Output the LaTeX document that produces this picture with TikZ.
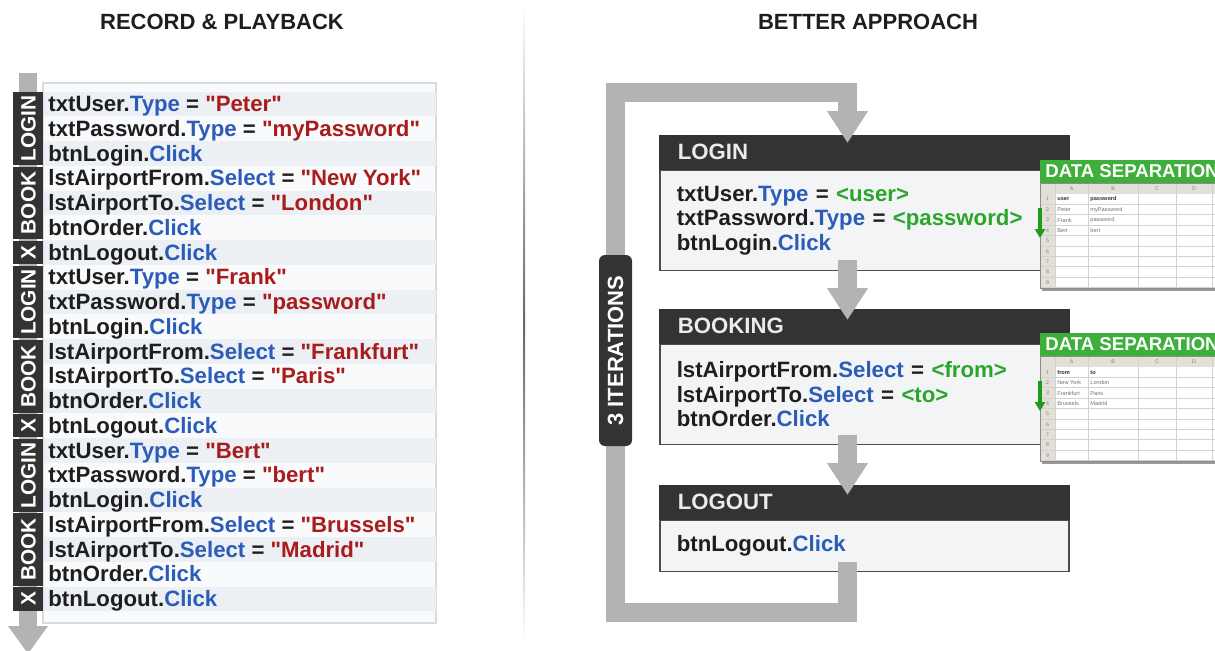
\documentclass[tikz,border=0pt]{standalone}
\usepackage{fontspec}
\setmainfont{Liberation Sans}
\usetikzlibrary{arrows.meta,positioning,calc}

\definecolor{ink}{HTML}{1E1E1E}
\definecolor{codeblue}{HTML}{2A5CB8}
\definecolor{codered}{HTML}{A81C1C}
\definecolor{codegreen}{HTML}{2BA52B}
\definecolor{darkbar}{HTML}{333333}
\definecolor{flowgray}{HTML}{B3B3B3}
\definecolor{bodyfill}{HTML}{F3F4F6}
\definecolor{panelfill}{HTML}{F9FAFB}
\definecolor{paneledge}{HTML}{D5DCE4}
\definecolor{rowshade}{HTML}{ECEFF3}
\definecolor{sheetgreen}{HTML}{3DAF3A}
\definecolor{gridgray}{HTML}{D2D2D2}
\definecolor{sheethead}{HTML}{E3E0D8}
\definecolor{arrowgreen}{HTML}{1E9A1E}

% straight double quote, taken as a glyph so that no text mapping curls it
\newcommand{\dq}{\XeTeXglyph\XeTeXglyphindex"quotedbl"\relax}
\newcommand{\call}[2]{#1.\textcolor{codeblue}{#2}}
\newcommand{\setval}[3]{\call{#1}{#2} = \textcolor{codered}{\dq#3\dq}}
\newcommand{\setpar}[3]{\call{#1}{#2} = \textcolor{codegreen}{<#3>}}

\tikzset{
    heading/.style={font=\bfseries\fontsize{11}{13}\selectfont, text=ink, inner sep=0pt},
    codeline/.style={font=\bfseries\fontsize{11.1}{12.25}\selectfont, text=ink, inner sep=0pt},
    bartext/.style={font=\bfseries\fontsize{10.4}{12}\selectfont, text=white, rotate=90, inner sep=0pt},
    flow/.style={draw=flowgray, line width=9.5pt, line join=miter, -{Triangle[width=19.5pt,length=16pt]}},
    boxhead/.style={fill=darkbar, draw=darkbar, line width=0.8pt, text=white!92!black,
        font=\bfseries\fontsize{11.1}{13}\selectfont, minimum width=204.5pt, minimum height=16.5pt,
        text width=186.5pt, inner xsep=9pt, align=left, anchor=north west},
    boxbody/.style={fill=bodyfill, draw=black!70, line width=0.8pt, text=ink,
        font=\bfseries\fontsize{11.1}{12.25}\selectfont, minimum width=204.5pt,
        text width=187.5pt, inner xsep=8.5pt, align=left, anchor=north west},
    iterbox/.style={fill=darkbar, text=white, rounded corners=3pt, rotate=90,
        font=\bfseries\fontsize{11}{13}\selectfont, minimum width=95.5pt, minimum height=16.5pt},
    sheettitle/.style={font=\bfseries\fontsize{9.3}{11}\selectfont, text=white, inner sep=0pt, anchor=west},
    cell/.style={font=\fontsize{2.8}{3}\selectfont, text=black!55, inner sep=0pt, anchor=west},
    rownum/.style={font=\fontsize{2.6}{3}\selectfont, text=black!50, inner sep=0pt}
}

\begin{document}
\begin{tikzpicture}[x=0.5pt, y=-0.5pt]
    \useasboundingbox (0,0) rectangle (1215,650);
    \clip (0,0) rectangle (1215,650);

    % titles and divider
    \node[heading] (lefttitle) at (222,22) {RECORD \& PLAYBACK};
    \node[heading] (righttitle) at (868,22) {BETTER APPROACH};
    \shade[top color=white, bottom color=white, middle color=black!60] (523.6,4) rectangle (525,646);

    % recorded script
    \fill[panelfill, draw=paneledge, line width=0.6pt] (43,83) rectangle (436,623);
    \foreach \i in {1,3,...,21} {
        \fill[rowshade] (43.5,{91.6+24.75*(\i-1)}) rectangle (435.5,{91.6+24.75*\i});
    }

    \coordinate (tapetop) at (28,73);
    \coordinate (tapeend) at (28,654);
    \draw[flow, line width=9pt, -{Triangle[width=19pt,length=14pt]}] (tapetop) -- (tapeend);

    \foreach \a/\b/\lbl in {1/3/LOGIN, 4/6/BOOK, 7/7/X, 8/10/LOGIN, 11/13/BOOK, 14/14/X,
                            15/17/LOGIN, 18/20/BOOK, 21/21/X} {
        \fill[darkbar] (13,{91.6+24.75*(\a-1)+0.8}) rectangle (43,{91.6+24.75*\b-0.8});
        \node[bartext] (tag\a) at (28.5,{91.6+24.75*(\a+\b-1)/2}) {\lbl};
    }

    \foreach \i/\stmt in {
            1/{\setval{txtUser}{Type}{Peter}},
            2/{\setval{txtPassword}{Type}{myPassword}},
            3/{\call{btnLogin}{Click}},
            4/{\setval{lstAirportFrom}{Select}{New York}},
            5/{\setval{lstAirportTo}{Select}{London}},
            6/{\call{btnOrder}{Click}},
            7/{\call{btnLogout}{Click}},
            8/{\setval{txtUser}{Type}{Frank}},
            9/{\setval{txtPassword}{Type}{password}},
            10/{\call{btnLogin}{Click}},
            11/{\setval{lstAirportFrom}{Select}{Frankfurt}},
            12/{\setval{lstAirportTo}{Select}{Paris}},
            13/{\call{btnOrder}{Click}},
            14/{\call{btnLogout}{Click}},
            15/{\setval{txtUser}{Type}{Bert}},
            16/{\setval{txtPassword}{Type}{bert}},
            17/{\call{btnLogin}{Click}},
            18/{\setval{lstAirportFrom}{Select}{Brussels}},
            19/{\setval{lstAirportTo}{Select}{Madrid}},
            20/{\call{btnOrder}{Click}},
            21/{\call{btnLogout}{Click}}} {
        \node[codeline, anchor=base west] (line\i) at (48,{104+24.75*(\i-1)+7.5}) {\stmt};
    }

    % keyword driven version
    \node[boxhead] (loginhd) at (659,135) {LOGIN};
    \node[boxbody, minimum height=50pt] (loginbd) at (loginhd.south west)
        {\setpar{txtUser}{Type}{user}\\ \setpar{txtPassword}{Type}{password}\\ \call{btnLogin}{Click}};

    \node[boxhead] (bookhd) at (659,309) {BOOKING};
    \node[boxbody, minimum height=50pt] (bookbd) at (bookhd.south west)
        {\setpar{lstAirportFrom}{Select}{from}\\ \setpar{lstAirportTo}{Select}{to}\\ \call{btnOrder}{Click}};

    \node[boxhead] (logouthd) at (659,485) {LOGOUT};
    \node[boxbody, minimum height=25.5pt] (logoutbd) at (logouthd.south west)
        {\call{btnLogout}{Click}};

    \coordinate (loopx) at (847.5,0);
    \coordinate (loopbl) at (615.5,612);
    \coordinate (looptl) at (615.5,92.5);

    \draw[flow] ($(loginbd.south -| loopx)+(0,-11)$) -- ($(bookhd.north -| loopx)+(0,11)$);
    \draw[flow] ($(bookbd.south -| loopx)+(0,-10)$) -- ($(logouthd.north -| loopx)+(0,10)$);
    \draw[flow] ($(logoutbd.south -| loopx)+(0,-10)$) |- (loopbl) -- (looptl)
        -| ($(loginhd.north -| loopx)+(0,8)$);

    \node[iterbox] (iter) at (615.5,350.5) {3 ITERATIONS};

    % data sheets
    \foreach \t/\ha/\hb/\pa/\pb/\qa/\qb/\ra/\rb in {
            160/user/password/Peter/myPassword/Frank/password/Bert/bert,
            333/from/to/New York/London/Frankfurt/Paris/Brussels/Madrid} {
        \fill[black!40] (1042,{\t+23}) rectangle (1222,{\t+131});
        \fill[white] (1040,{\t+23}) rectangle (1222,{\t+128});
        \fill[sheethead] (1040,{\t+23}) rectangle (1222,{\t+34});
        \fill[sheethead] (1040,{\t+23}) rectangle (1055,{\t+128});
        \foreach \r in {1,...,9} {
            \draw[gridgray, line width=0.4pt] (1040,{\t+34+10.4*\r}) -- (1222,{\t+34+10.4*\r});
            \node[rownum] (num\t-\r) at (1047.5,{\t+34+10.4*(\r-0.5)}) {\r};
        }
        \foreach \c in {1055,1088,1138,1176,1212} {
            \draw[gridgray, line width=0.4pt] (\c,{\t+23}) -- (\c,{\t+128});
        }
        \foreach \c/\x in {A/1071.5, B/1113, C/1157, D/1194} {
            \node[rownum] (col\t\c) at (\x,{\t+28.5}) {\c};
        }
        \draw[black!45, line width=0.5pt] (1040,{\t+23}) rectangle (1222,{\t+128});
        \node[cell, text=black!80, font=\bfseries\fontsize{2.8}{3}\selectfont] (ha\t) at (1057,{\t+39.2}) {\ha};
        \node[cell, text=black!80, font=\bfseries\fontsize{2.8}{3}\selectfont] (hb\t) at (1090,{\t+39.2}) {\hb};
        \node[cell] (pa\t) at (1057,{\t+49.6}) {\pa};
        \node[cell] (pb\t) at (1090,{\t+49.6}) {\pb};
        \node[cell] (qa\t) at (1057,{\t+60}) {\qa};
        \node[cell] (qb\t) at (1090,{\t+60}) {\qb};
        \node[cell] (ra\t) at (1057,{\t+70.4}) {\ra};
        \node[cell] (rb\t) at (1090,{\t+70.4}) {\rb};

        \fill[sheetgreen] (1040,\t) rectangle (1222,{\t+23});
        \node[sheettitle] (ds\t) at (1045,{\t+11.5}) {DATA SEPARATION};

        \coordinate (feedtop\t) at (1040,{\t+48});
        \coordinate (feedend\t) at (1040,{\t+78});
        \draw[arrowgreen, line width=1.6pt, -{Triangle[width=5pt,length=4.5pt]}] (feedtop\t) -- (feedend\t);
    }
\end{tikzpicture}
\end{document}
